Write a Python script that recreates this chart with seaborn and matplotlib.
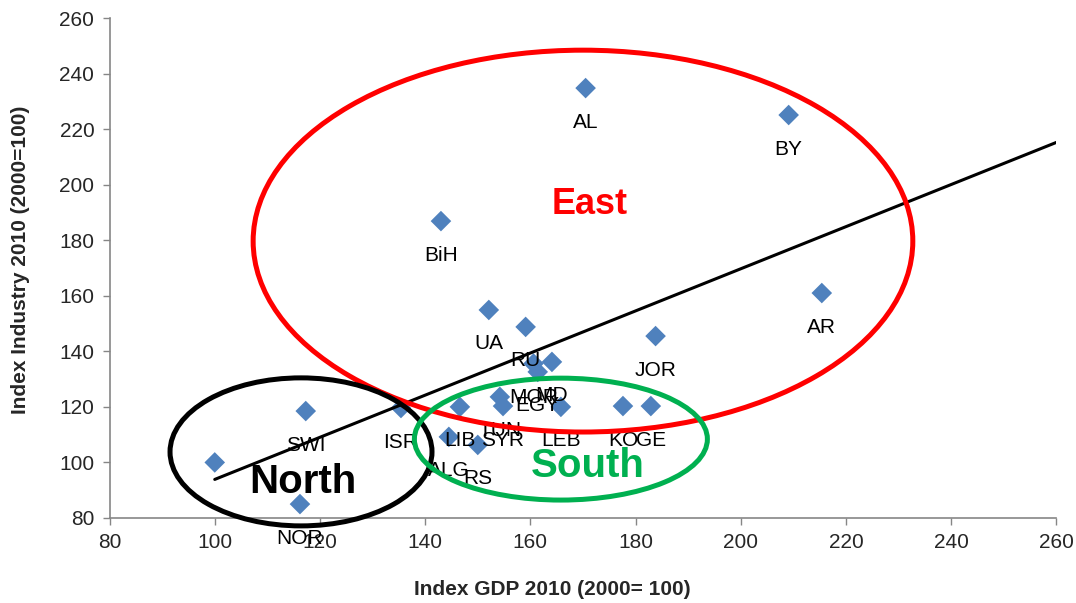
import numpy as np
import pandas as pd
from matplotlib import pyplot as plt
from matplotlib.patches import Ellipse
import seaborn as sns

# values
countries = ["", "SWI", "NOR", "ISR", "ALG", "LIB", "RS", "TUN", "SYR", "UA", "RU",
             "MOR", "EGY", "MD", "LEB", "KO", "GE", "JOR", "BiH", "AL", "BY", "AR"]
gdp_index = [100.0, 117.3, 116.2, 135.4, 144.5, 146.6, 150.0, 154.2, 154.8, 152.1, 159.1,
             160.6, 161.4, 164.1, 165.8, 177.6, 182.9, 183.8, 143.0, 170.5, 209.1, 215.4]
industry_index = [100.0, 118.5, 85.0, 119.6, 109.2, 120.0, 106.3, 123.6, 120.3, 154.9, 148.8,
                  135.6, 132.6, 136.2, 120.0, 120.3, 120.3, 145.5, 186.9, 234.8, 225.1, 161.0]

# hand-drawn group ellipses: name, centre x, centre y, width, height, colour
group_names = ["East", "North", "South"]
group_cx = [170.0, 116.4, 165.8]
group_cy = [179.7, 103.8, 108.4]
group_w = [125.4, 49.8, 55.7]
group_h = [137.5, 53.3, 43.9]
group_colors = ["#FF0000", "#000000", "#00B050"]
group_text_x = [171.3, 116.8, 170.9]
group_text_y = [192.7, 93.0, 98.7]

df = pd.DataFrame({"gdp": gdp_index, "industry": industry_index, "country": countries})

sns.set_theme(style="white")
plt.rcParams["font.family"] = ["Liberation Sans", "DejaVu Sans"]

fig = plt.figure(figsize=(10.76, 6.03), dpi=100)
ax = fig.add_axes([0.1018, 0.141, 0.8800, 0.829])

sns.scatterplot(data=df, x="gdp", y="industry", marker="D", s=110, color="#4F81BD",
                edgecolor="none", ax=ax, zorder=3)

# linear trend line, as Excel draws it: from the smallest x forward to the axis end
slope, intercept = np.polyfit(df["gdp"], df["industry"], 1)
trend_x = np.array([df["gdp"].min(), 260])
ax.plot(trend_x, slope * trend_x + intercept, color="black", lw=2.2, zorder=4)

for _, row in df.iterrows():
    if row["country"]:
        ax.annotate(row["country"], (row["gdp"], row["industry"]), xytext=(0, -24.5),
                    textcoords="offset points", ha="center", va="center", fontsize=15,
                    color="black", zorder=5)

for name, cx, cy, w, h, c, tx, ty in zip(group_names, group_cx, group_cy, group_w, group_h,
                                         group_colors, group_text_x, group_text_y):
    ax.add_patch(Ellipse((cx, cy), w, h, fill=False, edgecolor=c, lw=3.6, zorder=6,
                         clip_on=False))
    ax.text(tx, ty, name, color=c, fontsize=26 if name == "East" else 29,
            fontweight="bold", ha="center", va="center", zorder=7)

ax.set_xlim(80, 260)
ax.set_ylim(80, 260)
ax.set_xticks(range(80, 261, 20))
ax.set_yticks(range(80, 261, 20))
ax.tick_params(axis="both", labelsize=15, length=5, width=1, color="#868686",
               direction="out", pad=6, bottom=True, left=True)
ax.set_xlabel("Index GDP 2010 (2000= 100)", fontsize=15, fontweight="bold",
              va="center", ha="center")
ax.set_ylabel("Index Industry 2010 (2000=100)", fontsize=15, fontweight="bold",
              va="center", ha="center")
ax.xaxis.set_label_coords(0.468, -0.144)
ax.yaxis.set_label_coords(-0.0945, 0.516)
sns.despine(ax=ax)
for side in ["left", "bottom"]:
    ax.spines[side].set_color("#868686")
    ax.spines[side].set_linewidth(1.2)

plt.savefig("out.png", dpi=100)
plt.close(fig)
